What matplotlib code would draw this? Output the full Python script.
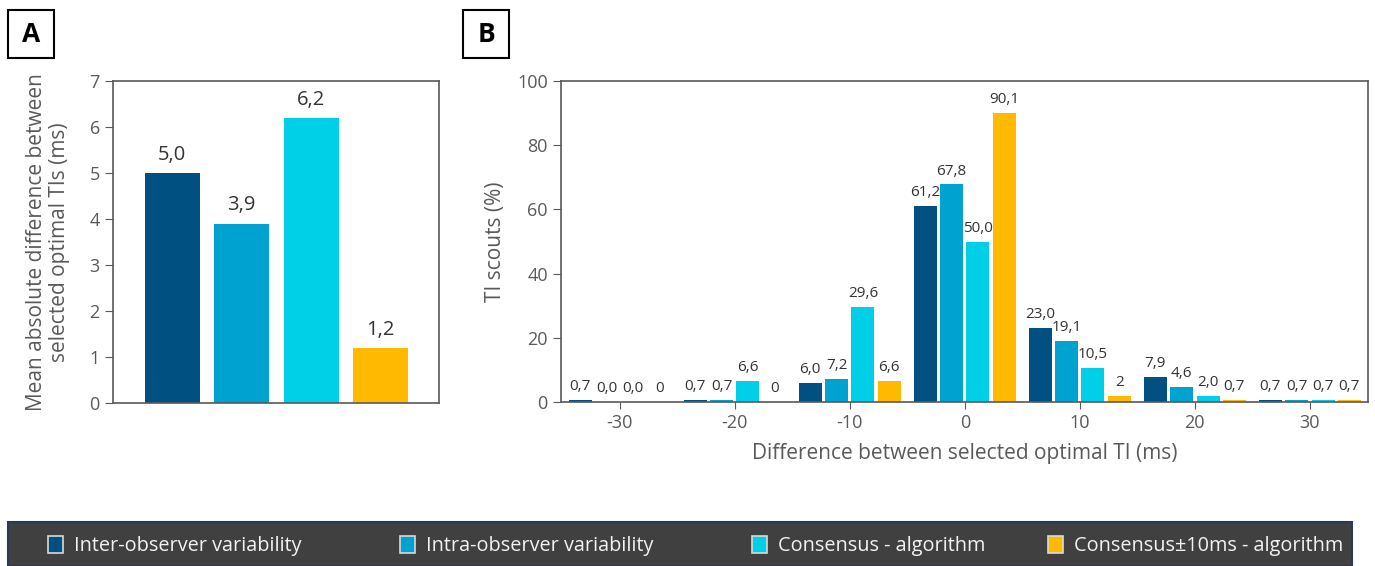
import numpy as np
import matplotlib
matplotlib.use("Agg")
import matplotlib.pyplot as plt
from matplotlib.patches import Rectangle

plt.rcParams["font.family"] = ["Open Sans", "DejaVu Sans"]
plt.rcParams["axes.unicode_minus"] = False

# ---------- DATA ----------
SERIES = ["Inter-observer variability", "Intra-observer variability",
          "Consensus - algorithm", "Consensus\u00b110ms - algorithm"]
COLORS = ["#005082", "#00A2CF", "#00CFE8", "#FFBA00"]

# panel A: mean absolute difference (ms)
mean_diff = [5.0, 3.9, 6.2, 1.2]
mean_labels = ["5,0", "3,9", "6,2", "1,2"]

# panel B: distribution of differences (%)
diff_bins = [-30, -20, -10, 0, 10, 20, 30]
inter = [0.7, 0.7, 6.0, 61.2, 23.0, 7.9, 0.7]
intra = [0.0, 0.7, 7.2, 67.8, 19.1, 4.6, 0.7]
consensus = [0.0, 6.6, 29.6, 50.0, 10.5, 2.0, 0.7]
consensus10 = [0, 0, 6.6, 90.1, 2, 0.7, 0.7]
inter_lbl = ["0,7", "0,7", "6,0", "61,2", "23,0", "7,9", "0,7"]
intra_lbl = ["0,0", "0,7", "7,2", "67,8", "19,1", "4,6", "0,7"]
consensus_lbl = ["0,0", "6,6", "29,6", "50,0", "10,5", "2,0", "0,7"]
consensus10_lbl = ["0", "0", "6,6", "90,1", "2", "0,7", "0,7"]

TXT = "#595959"
SPINE = "#595959"
W, H = 1375, 566

fig = plt.figure(figsize=(13.75, 5.66), dpi=100)


def style_axes(ax):
    for s in ax.spines.values():
        s.set_color(SPINE)
        s.set_linewidth(1.2)
    ax.tick_params(colors=SPINE, labelcolor=TXT, labelsize=13, direction="out", length=6)


# ---------- PANEL A ----------
axA = fig.add_axes([0.0822, 0.288, 0.2371, 0.5689])
xa = np.arange(len(mean_diff))
axA.bar(xa, mean_diff, width=0.79, color=COLORS)
for x, v, l in zip(xa, mean_diff, mean_labels):
    axA.text(x, v + 0.18, l, ha="center", va="bottom", fontsize=14.5, color="#333333")
axA.set_xlim(-0.85, 3.84)
axA.set_ylim(0, 7)
axA.set_yticks(range(0, 8))
axA.set_xticks([])
style_axes(axA)
axA.set_ylabel("Mean absolute difference between\nselected optimal TIs (ms)",
               fontsize=15, color=TXT, labelpad=14, linespacing=1.1)

# ---------- PANEL B ----------
axB = fig.add_axes([0.408, 0.2898, 0.5869, 0.567])
step = 2.29
offsets = [-1.5 * step, -0.5 * step, 0.5 * step, 1.5 * step]
vals = [inter, intra, consensus, consensus10]
lbls = [inter_lbl, intra_lbl, consensus_lbl, consensus10_lbl]
bins = np.array(diff_bins)
for off, v, lb, c in zip(offsets, vals, lbls, COLORS):
    axB.bar(bins + off, v, width=2.0, color=c)
    for x, y, t in zip(bins + off, v, lb):
        axB.text(x, y + 1.8, t, ha="center", va="bottom", fontsize=11, color="#333333")
axB.set_xlim(-35.1, 35.05)
axB.set_ylim(0, 100)
axB.set_xticks(diff_bins)
axB.set_yticks(range(0, 101, 20))
style_axes(axB)
axB.tick_params(axis="x", length=5)
axB.set_ylabel("TI scouts (%)", fontsize=15, color=TXT, labelpad=8)
axB.set_xlabel("Difference between selected optimal TI (ms)", fontsize=15,
               color=TXT, labelpad=8)

# ---------- PANEL LETTERS ----------
for x0, letter in [(8, "A"), (463, "B")]:
    fig.patches.append(Rectangle((x0 / W, 1 - 58 / H), 46 / W, 48 / H,
                                 transform=fig.transFigure, fill=False,
                                 edgecolor="black", linewidth=1.5))
    fig.text((x0 + 23) / W, 1 - 34 / H, letter, ha="center", va="center",
             fontsize=19, fontweight="bold")

# ---------- LEGEND (manual, bottom band) ----------
fig.patches.append(Rectangle((8 / W, 0), 1344 / W, 44 / H,
                             transform=fig.transFigure, facecolor="#404040",
                             edgecolor="#2a3a55", linewidth=1.5))
leg_x = [48, 400, 752, 1048]
for x0, name, c in zip(leg_x, SERIES, COLORS):
    fig.patches.append(Rectangle((x0 / W, 13 / H), 15 / W, 17 / H,
                                 transform=fig.transFigure, facecolor=c,
                                 edgecolor="#d9d9d9", linewidth=1.2))
    fig.text((x0 + 26) / W, 20 / H, name, ha="left", va="center",
             fontsize=14.3, color="#f2f2f2")

fig.savefig("out.png", dpi=100)
